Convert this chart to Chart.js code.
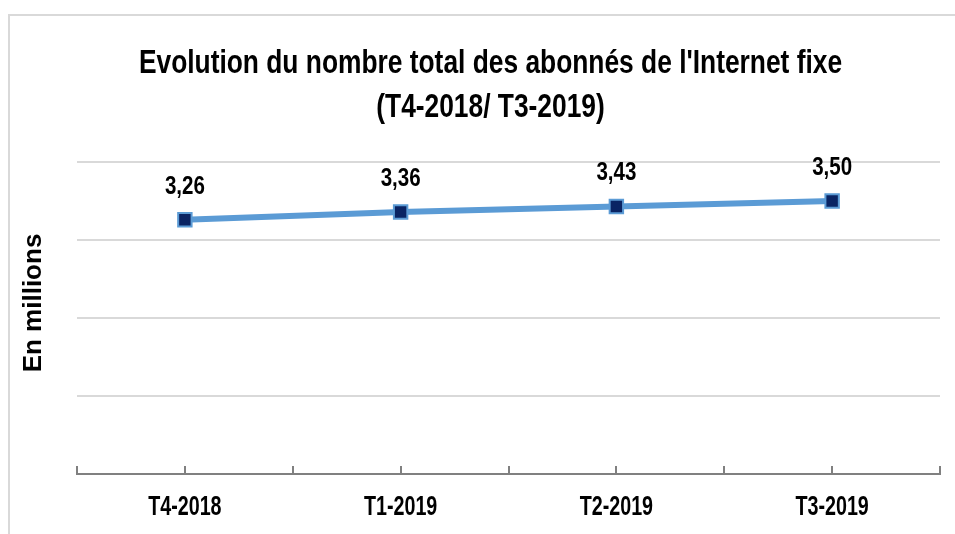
<!DOCTYPE html>
<html>
<head>
<meta charset="utf-8">
<script src="https://cdn.jsdelivr.net/npm/chart.js@4"></script>
<style>
  html, body { margin: 0; padding: 0; background: #fff; }
  #wrap { position: relative; width: 955px; height: 534px; overflow: hidden; }
  #frame { position: absolute; left: 8px; top: 14px; width: 1000px; height: 600px;
           border-left: 2px solid #d9d9d9; border-top: 2px solid #d9d9d9; }
  canvas { position: absolute; left: 0; top: 0; }
</style>
</head>
<body>
<div id="wrap">
  <div id="frame"></div>
  <canvas id="chart" width="955" height="534"></canvas>
</div>
<script>
const categories = ['T4-2018', 'T1-2019', 'T2-2019', 'T3-2019'];
const subscribers = [3.26, 3.36, 3.43, 3.50];
const titleLines = ["Evolution du nombre total des abonnés de l'Internet fixe", '(T4-2018/ T3-2019)'];
const yTitle = 'En millions';

const FONT = "'Liberation Sans', Arial, sans-serif";

// narrow text: the original uses a condensed face, so squeeze horizontally
function narrowText(ctx, text, x, y, font, sx) {
  ctx.save();
  ctx.font = font;
  ctx.translate(x, y);
  ctx.scale(sx, 1);
  ctx.fillText(text, 0, 0);
  ctx.restore();
}

const textLayer = {
  id: 'textLayer',
  afterDraw(chart) {
    const ctx = chart.ctx;
    const xs = chart.scales.x;
    const area = chart.chartArea;
    ctx.save();
    ctx.fillStyle = '#000';
    ctx.textAlign = 'center';
    ctx.textBaseline = 'alphabetic';

    // title
    const cx = (area.left + area.right) / 2 - 18;
    narrowText(ctx, titleLines[0], cx, 73, 'bold 34px ' + FONT, 0.775);
    narrowText(ctx, titleLines[1], cx, 117, 'bold 34px ' + FONT, 0.775);

    // category labels
    categories.forEach((c, i) => {
      narrowText(ctx, c, xs.getPixelForValue(i), 515, 'bold 27px ' + FONT, 0.73);
    });

    // value labels
    const meta = chart.getDatasetMeta(0);
    meta.data.forEach((pt, i) => {
      narrowText(ctx, subscribers[i].toFixed(2).replace('.', ','), pt.x, pt.y - 26, 'bold 26px ' + FONT, 0.79);
    });

    // y axis title
    ctx.save();
    ctx.translate(34, 303);
    ctx.rotate(-Math.PI / 2);
    ctx.textBaseline = 'middle';
    ctx.font = 'bold 26px ' + FONT;
    ctx.fillText(yTitle, 0, 0);
    ctx.restore();

    ctx.restore();
  }
};

new Chart(document.getElementById('chart'), {
  type: 'line',
  data: {
    datasets: [{
      data: subscribers.map((v, i) => ({ x: i, y: v })),
      borderColor: '#5b9bd5',
      borderWidth: 6,
      pointStyle: 'rect',
      pointRadius: 9.5,
      pointBackgroundColor: '#0a2463',
      pointBorderColor: '#5b9bd5',
      pointBorderWidth: 2,
      tension: 0
    }]
  },
  options: {
    responsive: false,
    animation: false,
    layout: { padding: { left: 0, right: 15, top: 162, bottom: 0 } },
    plugins: {
      legend: { display: false },
      tooltip: { enabled: false },
      title: { display: false }
    },
    scales: {
      x: {
        type: 'linear',
        min: -0.5,
        max: 3.5,
        afterFit: s => { s.height = 60; },
        afterBuildTicks: s => {
          s.ticks = [];
          for (let v = -0.5; v <= 3.5; v += 0.5) s.ticks.push({ value: v });
        },
        ticks: { display: false },
        grid: { drawOnChartArea: false, drawTicks: true, tickLength: -8, color: '#808080', lineWidth: 2 },
        border: { display: true, color: '#808080', width: 2 }
      },
      y: {
        min: 0,
        max: 4,
        afterFit: s => { s.width = 77; },
        ticks: { display: false, stepSize: 1 },
        grid: { drawTicks: false, color: '#d9d9d9', lineWidth: 2 },
        border: { display: false }
      }
    }
  },
  plugins: [textLayer]
});
</script>
</body>
</html>
